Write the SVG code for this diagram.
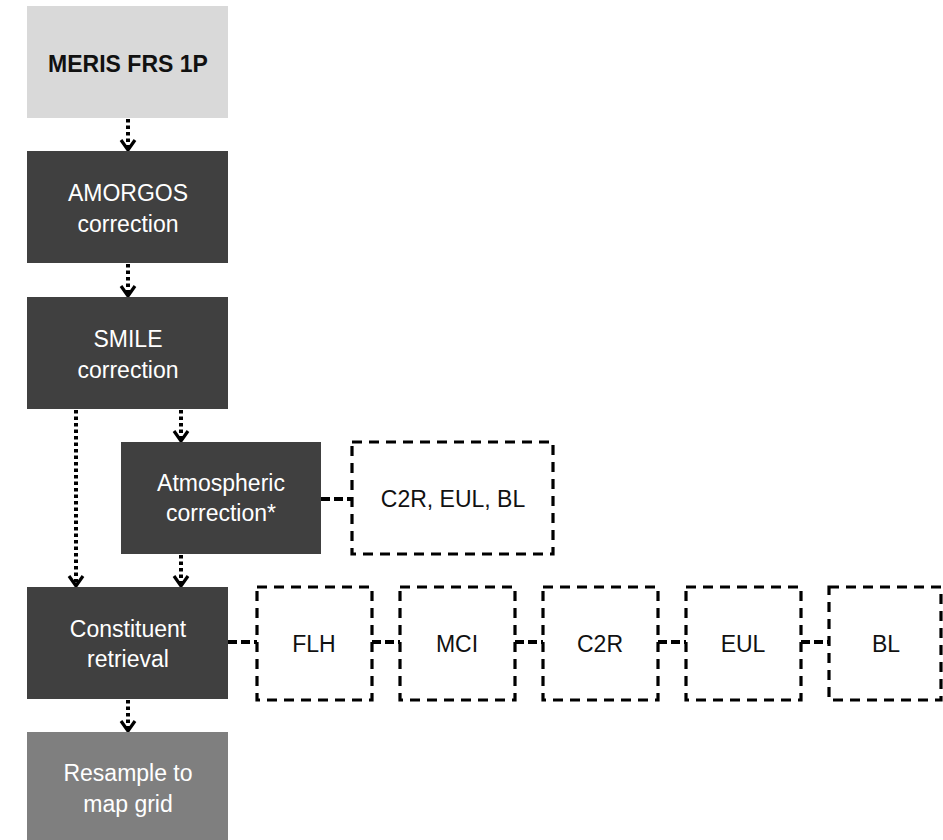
<svg xmlns="http://www.w3.org/2000/svg" width="943" height="840" viewBox="0 0 943 840">
<style>
.dark{fill:#404040}
.t{font-family:"Liberation Sans",Arial,sans-serif;font-size:23px;text-anchor:middle}
.w{fill:#ffffff}
.k{fill:#111111}
.dash{fill:none;stroke:#000;stroke-width:3.2;stroke-dasharray:10 7}
.arrow{fill:none;stroke:#000;stroke-width:4;stroke-dasharray:3.5 3;marker-end:url(#chev)}
.link{fill:none;stroke:#000;stroke-width:4;stroke-dasharray:9 4}
</style>
<defs>
<marker id="chev" viewBox="0 0 14 18" refX="12" refY="9" markerWidth="14" markerHeight="18" markerUnits="userSpaceOnUse" orient="auto">
<path d="M2,2 L12,9 L2,16" fill="none" stroke="#000" stroke-width="3.2"/>
</marker>
</defs>
<rect width="943" height="840" fill="#ffffff"/>
<g id="connectors">
<line class="arrow" x1="128" y1="119" x2="128" y2="150"/>
<line class="arrow" x1="128" y1="264" x2="128" y2="296"/>
<line class="arrow" x1="181" y1="410" x2="181" y2="441"/>
<line class="arrow" x1="76" y1="410" x2="76" y2="586"/>
<line class="arrow" x1="181" y1="555" x2="181" y2="586"/>
<line class="arrow" x1="128" y1="700" x2="128" y2="731"/>
<line class="link" x1="321" y1="499" x2="352" y2="499"/>
<line class="link" x1="228" y1="642" x2="257" y2="642"/>
<line class="link" x1="372" y1="642" x2="400" y2="642"/>
<line class="link" x1="515" y1="642" x2="543" y2="642"/>
<line class="link" x1="658" y1="642" x2="686" y2="642"/>
<line class="link" x1="801" y1="642" x2="829" y2="642"/>
</g>
<g id="meris">
<rect x="27" y="6" width="201" height="112" fill="#d9d9d9"/>
<text class="t k" x="128" y="72" font-weight="bold">MERIS FRS 1P</text>
</g>
<g id="amorgos">
<rect class="dark" x="27" y="151" width="201" height="112"/>
<text class="t w" x="128" y="201">AMORGOS</text>
<text class="t w" x="128" y="232">correction</text>
</g>
<g id="smile">
<rect class="dark" x="27" y="297" width="201" height="112"/>
<text class="t w" x="128" y="347">SMILE</text>
<text class="t w" x="128" y="378">correction</text>
</g>
<g id="atmos">
<rect class="dark" x="121" y="442" width="200" height="112"/>
<text class="t w" x="221" y="491">Atmospheric</text>
<text class="t w" x="221" y="521">correction*</text>
</g>
<g id="ac-algos">
<rect class="dash" x="352" y="442" width="201" height="112"/>
<text class="t k" x="453" y="507">C2R, EUL, BL</text>
</g>
<g id="constituent">
<rect class="dark" x="27" y="587" width="201" height="112"/>
<text class="t w" x="128" y="637">Constituent</text>
<text class="t w" x="128" y="667">retrieval</text>
</g>
<g id="resample">
<rect x="27" y="732" width="201" height="112" fill="#7f7f7f"/>
<text class="t w" x="128" y="781">Resample to</text>
<text class="t w" x="128" y="812">map grid</text>
</g>
<g id="flh">
<rect class="dash" x="257" y="587" width="115" height="113"/>
<text class="t k" x="314" y="652">FLH</text>
</g>
<g id="mci">
<rect class="dash" x="400" y="587" width="115" height="113"/>
<text class="t k" x="457" y="652">MCI</text>
</g>
<g id="c2r">
<rect class="dash" x="543" y="587" width="115" height="113"/>
<text class="t k" x="600" y="652">C2R</text>
</g>
<g id="eul">
<rect class="dash" x="686" y="587" width="115" height="113"/>
<text class="t k" x="743" y="652">EUL</text>
</g>
<g id="bl">
<rect class="dash" x="829" y="587" width="112" height="113"/>
<text class="t k" x="886" y="652">BL</text>
</g>
</svg>
